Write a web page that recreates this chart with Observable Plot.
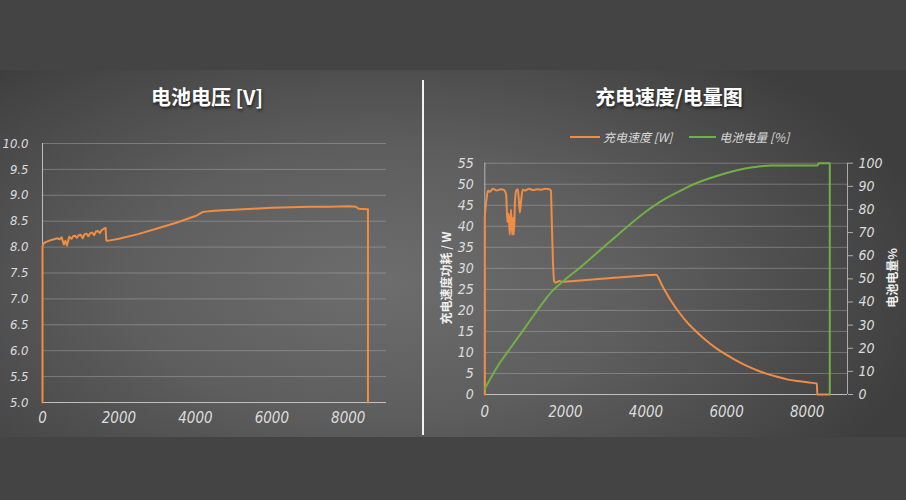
<!DOCTYPE html>
<html>
<head>
<meta charset="utf-8">
<script src="https://cdn.jsdelivr.net/npm/d3@7"></script>
<script src="https://cdn.jsdelivr.net/npm/@observablehq/plot@0.6"></script>
<style>
  html, body { margin: 0; padding: 0; }
  body { width: 906px; height: 500px; overflow: hidden; background: #444444; }
  #root { position: relative; width: 906px; height: 500px; background: #444444; }
  #band { position: absolute; left: 0; top: 70px; width: 906px; height: 367px;
    background: radial-gradient(ellipse 62% 80% at 42% 58%, #6d6d6d 0%, #5e5e5e 45%, #474747 85%, #3e3e3e 100%); }
  #divider { position: absolute; left: 422px; top: 80px; width: 2px; height: 355px; background: #f2f2f2; }
  .title { position: absolute; top: 82px; color: #ffffff; font-family: "Noto Sans CJK SC", sans-serif; font-weight: 700;
    font-size: 20px; line-height: 30px; text-shadow: 1px 2px 3px rgba(0,0,0,0.6); transform: translateX(-50%); white-space: nowrap; }
  .chart { position: absolute; }
  .axtitle { position: absolute; color: #eeeeee; font-family: "Noto Sans CJK SC", sans-serif; font-weight: 700; font-size: 12px;
    white-space: nowrap; transform: translate(-50%, -50%) rotate(-90deg); }
  .legend { position: absolute; top: 128px; left: 570px; display: flex; align-items: center; color: #d8d8d8;
    font-family: "Noto Sans CJK SC", sans-serif; font-size: 12px; font-style: italic; white-space: nowrap; }
  .legend .sw { display: inline-block; width: 30px; height: 2px; margin-right: 3px; }
</style>
</head>
<body>
<div id="root">
  <div id="band"></div>
  <div id="divider"></div>
  <div class="title" style="left:207px">电池电压 [V]</div>
  <div class="title" style="left:669px">充电速度/电量图</div>
  <div class="legend">
    <span class="sw" style="background:#f08d45"></span><span>充电速度 [W]</span>
    <span class="sw" style="background:#72b046; margin-left:17px; width:27px"></span><span>电池电量 [%]</span>
  </div>
  <div class="chart" id="left" style="left:0px; top:120px"></div>
  <div class="chart" id="right" style="left:425px; top:120px"></div>
  <div class="axtitle" style="left:445px; top:278px">充电速度功耗 / W</div>
  <div class="axtitle" style="left:891px; top:278px">电池电量%</div>
</div>
<script>
// ---- Data ----
const xTicks = [0, 2000, 4000, 6000, 8000];
const voltTicks = [5.0, 5.5, 6.0, 6.5, 7.0, 7.5, 8.0, 8.5, 9.0, 9.5, 10.0];
const powerTicks = [0, 5, 10, 15, 20, 25, 30, 35, 40, 45, 50, 55];
const battTicks = [0, 10, 20, 30, 40, 50, 60, 70, 80, 90, 100];

const voltTime = [0, 0, 30, 100, 200, 300, 400, 450, 500, 560, 600, 640, 700, 760, 800, 850, 900, 950, 1000, 1050, 1100, 1150, 1200, 1250, 1300, 1350, 1400, 1450, 1500, 1550, 1600, 1650, 1670, 1700, 2000, 2500, 3000, 3500, 4000, 4200, 4500, 5000, 5500, 6000, 6500, 7000, 7500, 8000, 8200, 8270, 8500, 8515, 8515];
const voltVals = [5.0, 8.02, 8.07, 8.10, 8.13, 8.15, 8.17, 8.15, 8.19, 8.05, 8.12, 8.03, 8.20, 8.16, 8.21, 8.22, 8.18, 8.23, 8.24, 8.17, 8.25, 8.26, 8.21, 8.27, 8.28, 8.23, 8.30, 8.31, 8.27, 8.33, 8.35, 8.37, 8.13, 8.12, 8.16, 8.25, 8.36, 8.47, 8.60, 8.68, 8.70, 8.72, 8.74, 8.76, 8.77, 8.78, 8.78, 8.79, 8.78, 8.74, 8.73, 8.73, 5.0];

const powTime = [0, 0, 20, 50, 80, 120, 200, 300, 400, 480, 530, 560, 590, 620, 650, 680, 700, 720, 750, 780, 820, 850, 870, 900, 940, 1000, 1100, 1200, 1300, 1400, 1500, 1600, 1640, 1660, 1690, 1720, 1760, 1850, 1900, 2200, 2600, 3000, 3400, 3800, 4100, 4250, 4400, 4600, 4800, 5000, 5200, 5400, 5600, 5800, 6000, 6200, 6400, 6600, 6800, 7000, 7250, 7500, 7750, 8000, 8240, 8250, 8560];
const powVals = [0, 42, 44.5, 47, 48.5, 48.2, 48.9, 48.5, 48.8, 48.6, 47.5, 41, 43, 38, 44, 38, 42, 38, 46, 48.5, 48.8, 45.5, 43.3, 46, 48.7, 48.5, 48.9, 48.6, 48.8, 48.7, 48.9, 48.8, 48.5, 42, 32, 27, 26.6, 27, 26.8, 27, 27.3, 27.6, 27.9, 28.2, 28.4, 28.5, 25.9, 22.6, 19.8, 17.4, 15.4, 13.6, 12.0, 10.6, 9.4, 8.3, 7.3, 6.4, 5.6, 4.9, 4.2, 3.6, 3.2, 2.9, 2.6, 0, 0];

const battTime = [0, 300, 700, 1100, 1500, 1670, 1800, 2000, 2400, 2800, 3200, 3600, 4000, 4400, 4800, 5200, 5600, 6000, 6400, 6800, 7100, 7500, 8000, 8250, 8290, 8560, 8560];
const battVals = [2.5, 11.7, 21.6, 31.4, 41, 44.7, 46.8, 49.8, 55.4, 61.5, 67.5, 73.5, 79.1, 83.8, 87.6, 91, 93.6, 95.8, 97.5, 98.6, 99, 99, 99, 99, 100, 100, 0];

const orange = "#f08d45";
const green = "#72b046";
const fontFam = '"Liberation Sans Narrow", "DejaVu Sans Condensed", "Roboto", sans-serif';

const volt = voltTime.map((t, i) => ({t, v: voltVals[i]}));
const pow = powTime.map((t, i) => ({t, w: powVals[i]}));
const batt = battTime.map((t, i) => ({t, p: battVals[i]}));

const baseStyle = {background: "transparent", color: "#dcdcdc", fontFamily: fontFam, fontStyle: "italic", overflow: "visible"};
const gridStroke = "#c8c8c8";

const left = Plot.plot({
  width: 410, height: 320,
  marginLeft: 42, marginRight: 24, marginTop: 23, marginBottom: 38,
  x: {domain: [0, 9000]},
  y: {domain: [5, 10]},
  style: baseStyle,
  marks: [
    Plot.gridY(voltTicks, {stroke: gridStroke, strokeOpacity: 0.35}),
    Plot.ruleY([5], {stroke: "#cfcfcf", strokeOpacity: 0.8}),
    Plot.ruleX([0], {stroke: "#d8d8d8", strokeOpacity: 0.8}),
    Plot.axisY(voltTicks, {tickSize: 0, tickPadding: 14, fontSize: 13, tickFormat: d => d.toFixed(1), label: null}),
    Plot.axisX(xTicks, {tickSize: 0, tickPadding: 10, fontSize: 15, tickFormat: d => String(d), label: null}),
    Plot.line(volt, {x: "t", y: "v", stroke: orange, strokeWidth: 2})
  ]
});
document.getElementById("left").append(left);

const k = 55 / 100;
const right = Plot.plot({
  width: 481, height: 320,
  marginLeft: 59.3, marginRight: 59, marginTop: 42.7, marginBottom: 46,
  x: {domain: [0, 9000]},
  y: {domain: [0, 55]},
  style: baseStyle,
  marks: [
    Plot.gridY(powerTicks, {stroke: gridStroke, strokeOpacity: 0.35}),
    Plot.ruleY([0], {stroke: "#cfcfcf", strokeOpacity: 0.8}),
    Plot.ruleX([0], {stroke: "#d8d8d8", strokeOpacity: 0.7}),
    Plot.ruleX([9000], {stroke: "#d8d8d8", strokeOpacity: 0.7}),
    Plot.axisY(powerTicks, {anchor: "left", tickSize: 0, tickPadding: 11, fontSize: 14, label: null}),
    Plot.axisY(battTicks.map(v => v * k), {anchor: "right", tickSize: 5, tickPadding: 6, fontSize: 14, stroke: "#d8d8d8", strokeOpacity: 0.7, tickFormat: d => String(Math.round(d / k)), label: null}),
    Plot.axisX(xTicks, {tickSize: 0, tickPadding: 12, fontSize: 15, tickFormat: d => String(d), label: null}),
    Plot.line(pow, {x: "t", y: "w", stroke: orange, strokeWidth: 2, curve: "monotone-x"}),
    Plot.line(batt, {x: "t", y: d => d.p * k, stroke: green, strokeWidth: 2, curve: "monotone-x"})
  ]
});
document.getElementById("right").append(right);
</script>
</body>
</html>
